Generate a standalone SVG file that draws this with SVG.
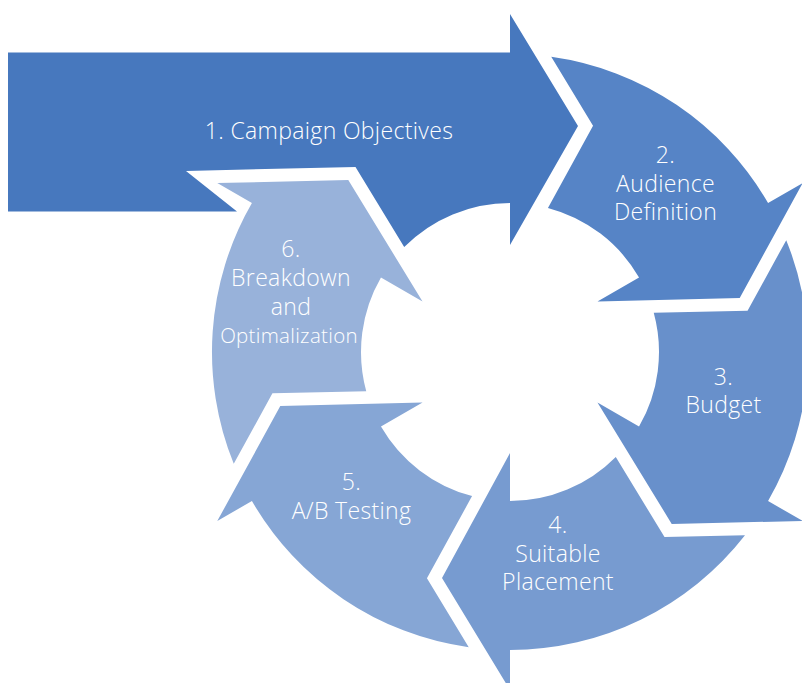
<svg xmlns="http://www.w3.org/2000/svg" width="802" height="683" viewBox="0 0 802 683">
<style>
text { font-family: "Open Sans", "Liberation Sans", sans-serif; font-size: 23px; font-weight: 300; letter-spacing: 0.35px; fill: #ffffff; text-anchor: middle; }
.small { font-size: 20.5px; letter-spacing: 0.3px; }
</style>
<defs>
<path id="seg" d="M 183.3 -235 A 298 298 0 0 1 298 0 L 338 0 L 226 68 L 101 0 L 149 0 A 149 149 0 0 0 104.9 -105.8 L 185.1 -154.5 Z"/>
</defs>
<rect width="802" height="683" fill="#ffffff"/>
<g id="step1">
<path fill="#4778BE" d="M 8 52.5 L 510 52.5 L 510 14 L 578 126 L 510 245 L 510 203 A 149 149 0 0 0 404.2 247.1 L 355.5 166.9 L 186 171 L 237 211.5 L 8 211.5 Z"/>
<text x="329" y="138.5">1. Campaign Objectives</text>
</g>
<g id="step2">
<use href="#seg" fill="#5684C6" transform="translate(510 352) rotate(-30)"/>
<text x="665.5" y="163">2.</text>
<text x="665.5" y="191.7">Audience</text>
<text x="665.5" y="220">Definition</text>
</g>
<g id="step3">
<use href="#seg" fill="#6890CB" transform="translate(510 352) rotate(30)"/>
<text x="723.5" y="385">3.</text>
<text x="723.5" y="413.3">Budget</text>
</g>
<g id="step4">
<use href="#seg" fill="#779BD0" transform="translate(510 352) rotate(90)"/>
<text x="558" y="533.3">4.</text>
<text x="558" y="561.7">Suitable</text>
<text x="558" y="590">Placement</text>
</g>
<g id="step5">
<use href="#seg" fill="#86A6D5" transform="translate(510 352) rotate(150)"/>
<text x="351.5" y="490">5.</text>
<text x="351.5" y="519.3">A/B Testing</text>
</g>
<g id="step6">
<use href="#seg" fill="#98B2DA" transform="translate(510 352) rotate(210)"/>
<text x="291" y="256.7">6.</text>
<text x="291" y="286">Breakdown</text>
<text x="291" y="315">and</text>
<text class="small" x="289" y="342.5">Optimalization</text>
</g>
</svg>
